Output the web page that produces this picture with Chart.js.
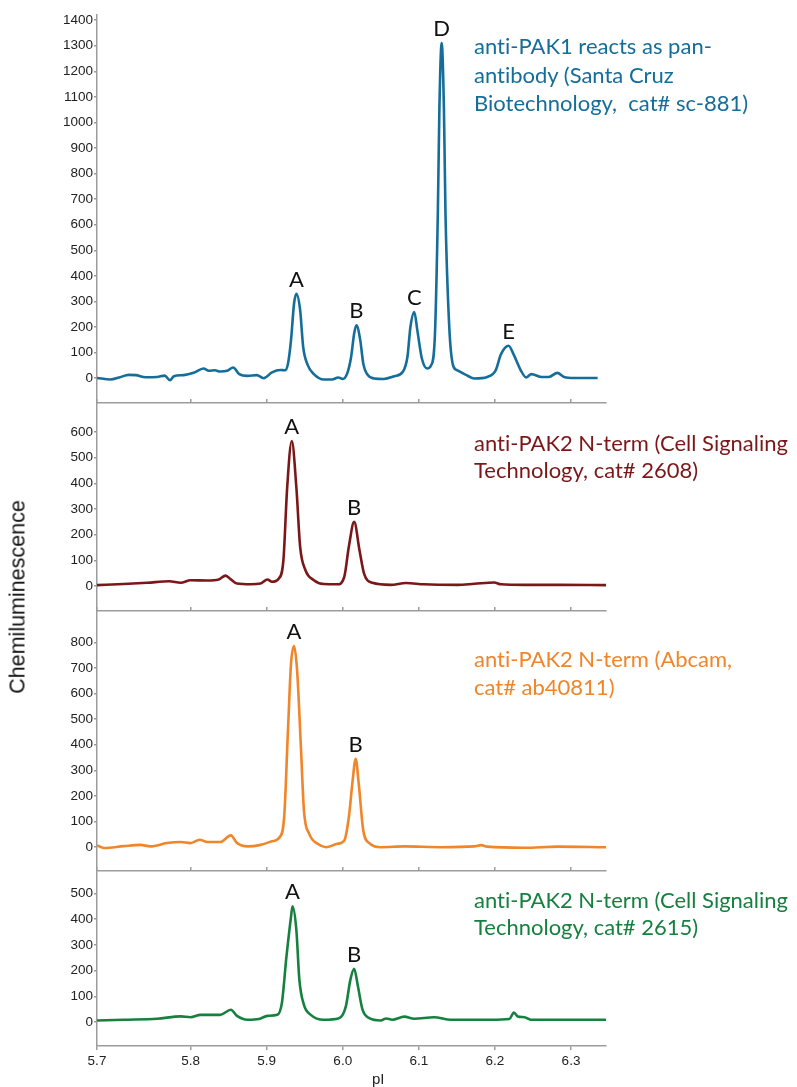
<!DOCTYPE html>
<html lang="en">
<head>
    <meta charset="UTF-8">
    <title>PAK antibody profiles</title>
    <style>
        body {
            margin: 0;
            background: #fff;
            width: 797px;
            height: 1087px;
            position: relative;
            overflow: hidden;
            font-family: "Liberation Sans", Arial, sans-serif;
        }
        .panel {
            position: absolute;
            left: 0;
        }
        .panel canvas {
            display: block;
        }
        .note {
            position: absolute;
            left: 474px;
            font-family: Lato, "Open Sans", sans-serif;
            font-size: 22px;
            font-variant-ligatures: none;
            white-space: pre;
        }
        #ytitle {
            position: absolute;
            left: 18px;
            top: 597px;
            font-size: 21.5px;
            color: #111;
            white-space: nowrap;
            transform: translate(-50%, -50%) rotate(-90deg);
        }
        #xtitle {
            position: absolute;
            left: 372px;
            top: 1070px;
            font-size: 15px;
            color: #222;
        }
    </style>
    <script src="https://cdn.jsdelivr.net/npm/chart.js"></script>
</head>
<body>
    <div class="panel" style="top:0px"><canvas id="c1" width="797" height="402"></canvas></div>
    <div class="panel" style="top:399px"><canvas id="c2" width="797" height="211"></canvas></div>
    <div class="panel" style="top:607px"><canvas id="c3" width="797" height="264"></canvas></div>
    <div class="panel" style="top:867px"><canvas id="c4" width="797" height="209"></canvas></div>

    <div class="note" style="top:32px; line-height:28.6px; color:#156d99">anti-PAK1 reacts as pan-
antibody (Santa Cruz
Biotechnology,  cat# sc-881)</div>
    <div class="note" style="top:430px; line-height:26.8px; color:#7c1719">anti-PAK2 N-term (Cell Signaling
Technology, cat# 2608)</div>
    <div class="note" style="top:645px; line-height:28px; color:#f0852a">anti-PAK2 N-term (Abcam,
cat# ab40811)</div>
    <div class="note" style="top:887px; line-height:26.5px; color:#16803f">anti-PAK2 N-term (Cell Signaling
Technology, cat# 2615)</div>

    <div id="ytitle">Chemiluminescence</div>
    <div id="xtitle">pI</div>

    <script>
        // shared x axis (pI)
        const xMin = 5.677;
        const xMax = 6.346;
        const xTickValues = [5.677, 5.8, 5.9, 6.0, 6.1, 6.2, 6.3];
        const xTickLabels = ['5.7', '5.8', '5.9', '6.0', '6.1', '6.2', '6.3'];

        // y axis range per panel (same scale, different heights)
        const yMin = -93;
        const yMax = [1420, 713, 922, 587];
        const yTopTick = [1400, 600, 800, 500];

        // panel 1: anti-PAK1 (sc-881)
        const pi1 = [5.677, 5.695, 5.706, 5.719, 5.728, 5.741, 5.756, 5.766, 5.773, 5.778, 5.791, 5.804, 5.817, 5.824,
            5.832, 5.839, 5.848, 5.856, 5.864, 5.875, 5.887, 5.896, 5.907, 5.918, 5.924, 5.928, 5.932, 5.936, 5.939,
            5.944, 5.948, 5.954, 5.962, 5.975, 5.986, 5.994, 6.000, 6.006, 6.011, 6.015, 6.018, 6.023, 6.027, 6.032,
            6.041, 6.054, 6.068, 6.079, 6.085, 6.089, 6.094, 6.098, 6.104, 6.111, 6.116, 6.121, 6.125, 6.127, 6.130,
            6.133, 6.135, 6.140, 6.145, 6.150, 6.160, 6.173, 6.190, 6.201, 6.208, 6.218, 6.225, 6.234, 6.241, 6.248,
            6.261, 6.271, 6.282, 6.291, 6.304, 6.335];
        const sig1 = [1, -5, 3, 13, 12, 4, 5, 10, -8, 8, 12, 21, 38, 29,
            31, 26, 29, 42, 16, 9, 12, 0, 23, 32, 31, 57, 149, 292, 330,
            266, 122, 51, 16, -5, -5, 3, -3, 20, 83, 175, 207, 149, 57, 16,
            -1, -3, 8, 25, 83, 201, 259, 188, 77, 38, 50, 160, 650, 1050, 1310,
            1050, 650, 200, 50, 32, 16, -1, 5, 31, 94, 127, 90, 31, 3, 16,
            5, 5, 21, 5, 1, 1];
        const peaks1 = ['A', 'B', 'C', 'D', 'E'];
        const peakPi1 = [5.939, 6.018, 6.094, 6.130, 6.218];

        // panel 2: anti-PAK2 N-term (CST 2608)
        const pi2 = [5.677, 5.712, 5.743, 5.772, 5.787, 5.800, 5.822, 5.837, 5.846, 5.853, 5.861, 5.879, 5.892, 5.901,
            5.907, 5.916, 5.922, 5.927, 5.933, 5.939, 5.944, 5.951, 5.962, 5.975, 5.993, 6.002, 6.008, 6.015, 6.022,
            6.028, 6.039, 6.063, 6.083, 6.107, 6.151, 6.173, 6.199, 6.208, 6.239, 6.283, 6.346];
        const sig2 = [4, 8, 13, 19, 13, 23, 22, 26, 41, 26, 10, 7, 10, 26,
            17, 30, 101, 386, 565, 386, 153, 62, 23, 8, 7, 36, 153, 250, 140,
            49, 13, 5, 12, 7, 5, 9, 14, 7, 5, 5, 4];
        const peaks2 = ['A', 'B'];
        const peakPi2 = [5.933, 6.015];

        // panel 3: anti-PAK2 N-term (Abcam ab40811)
        const pi3 = [5.677, 5.686, 5.712, 5.734, 5.747, 5.769, 5.787, 5.800, 5.812, 5.822, 5.839, 5.853, 5.861, 5.875,
            5.892, 5.907, 5.917, 5.923, 5.928, 5.932, 5.936, 5.940, 5.945, 5.949, 5.956, 5.967, 5.978, 5.993, 6.002,
            6.008, 6.013, 6.017, 6.021, 6.027, 6.035, 6.050, 6.081, 6.129, 6.173, 6.182, 6.190, 6.239, 6.282, 6.346];
        const sig3 = [7, -3, 4, 9, 3, 16, 20, 16, 29, 20, 20, 46, 16, 3,
            9, 23, 39, 117, 456, 716, 785, 690, 391, 143, 52, 13, 0, 13, 26,
            117, 260, 345, 248, 65, 16, 0, 3, 0, 3, 8, 2, -2, 2, 0];
        const peaks3 = ['A', 'B'];
        const peakPi3 = [5.936, 6.017];

        // panel 4: anti-PAK2 N-term (CST 2615)
        const pi4 = [5.677, 5.712, 5.756, 5.787, 5.800, 5.813, 5.839, 5.853, 5.861, 5.875, 5.890, 5.901, 5.914, 5.920,
            5.926, 5.932, 5.934, 5.939, 5.943, 5.949, 5.958, 5.975, 5.995, 6.004, 6.010, 6.015, 6.020, 6.026, 6.035,
            6.050, 6.057, 6.065, 6.081, 6.094, 6.120, 6.142, 6.195, 6.219, 6.225, 6.230, 6.239, 6.247, 6.304, 6.346];
        const sig4 = [6, 9, 13, 22, 19, 28, 28, 48, 24, 9, 12, 24, 28, 74,
            254, 409, 450, 358, 164, 67, 28, 9, 15, 60, 164, 207, 138, 48, 15,
            6, 14, 9, 21, 13, 19, 9, 9, 12, 37, 22, 19, 9, 9, 9];
        const peaks4 = ['A', 'B'];
        const peakPi4 = [5.934, 6.015];

        const axisGrey = '#9c9c9c';
        const tickFont = { family: '"Liberation Sans", Arial, sans-serif', size: 13.5 };

        // no extra room for half-labels at the axis ends, the panels sit edge to edge
        function noEndPadding(s) {
            s.paddingTop = 0;
            s.paddingBottom = 0;
            s.paddingLeft = 0;
            s.paddingRight = 0;
        }

        function makePanel(canvasId, xs, ys, color, panelIndex, names, at, showTop, showBottom, padTop) {
            // draws the peak letters just above the highest point near each position
            const peakLabels = {
                id: 'peakLabels' + panelIndex,
                afterDatasetsDraw(chart) {
                    const ctx = chart.ctx;
                    const pts = chart.data.datasets[0].data;
                    const sx = chart.scales.x, sy = chart.scales.y;
                    ctx.save();
                    ctx.font = '22px Lato, sans-serif';
                    ctx.fillStyle = '#111';
                    ctx.textAlign = 'center';
                    ctx.textBaseline = 'alphabetic';
                    names.forEach((name, i) => {
                        const near = pts.filter(p => Math.abs(p.x - at[i]) < 0.006);
                        const top = Math.max(...near.map(p => p.y));
                        ctx.fillText(name, sx.getPixelForValue(at[i]), sy.getPixelForValue(top) - 7);
                    });
                    ctx.restore();
                }
            };

            const xAxisBase = {
                type: 'linear',
                min: xMin,
                max: xMax,
                afterBuildTicks: s => { s.ticks = xTickValues.map(v => ({ value: v })); },
                border: { display: true, color: axisGrey, width: 1.5 },
                grid: { drawOnChartArea: false, tickLength: 4, color: axisGrey, lineWidth: 1.5 }
            };

            return new Chart(document.getElementById(canvasId), {
                type: 'line',
                data: {
                    datasets: [{
                        data: xs.map((x, i) => ({ x: x, y: ys[i] })),
                        borderColor: color,
                        borderWidth: 2.6,
                        pointRadius: 0,
                        fill: false,
                        cubicInterpolationMode: 'monotone'
                    }]
                },
                options: {
                    responsive: false,
                    animation: false,
                    layout: { padding: { top: padTop, right: 191, left: 0, bottom: 0 } },
                    plugins: {
                        legend: { display: false },
                        tooltip: { enabled: false }
                    },
                    scales: {
                        x: Object.assign({}, xAxisBase, {
                            position: 'bottom',
                            display: showBottom,
                            afterFit: s => {
                                noEndPadding(s);
                                if (showBottom) s.height = 30;
                            },
                            ticks: {
                                color: '#222',
                                font: tickFont,
                                padding: 3,
                                maxRotation: 0,
                                autoSkip: false,
                                callback: (v, i) => xTickLabels[i]
                            }
                        }),
                        xTop: Object.assign({}, xAxisBase, {
                            position: 'top',
                            display: showTop,
                            afterFit: s => {
                                noEndPadding(s);
                                if (showTop) s.height = 4;
                            },
                            ticks: { display: false }
                        }),
                        y: {
                            min: yMin,
                            max: yMax[panelIndex],
                            afterBuildTicks: s => {
                                const t = [];
                                for (let v = 0; v <= yTopTick[panelIndex]; v += 100) t.push({ value: v });
                                s.ticks = t;
                            },
                            afterFit: s => {
                                noEndPadding(s);
                                s.width = 97;
                            },
                            border: { display: true, color: axisGrey, width: 1.5 },
                            grid: { drawOnChartArea: false, tickLength: 3, color: axisGrey, lineWidth: 1.5 },
                            ticks: { color: '#222', font: tickFont, padding: 1, callback: v => String(v) }
                        }
                    }
                },
                plugins: [peakLabels]
            });
        }

        makePanel('c1', pi1, sig1, '#156d99', 0, peaks1, peakPi1, false, false, 15);
        makePanel('c2', pi2, sig2, '#7c1719', 1, peaks2, peakPi2, true, false, 0);
        makePanel('c3', pi3, sig3, '#f0852a', 2, peaks3, peakPi3, true, false, 0);
        makePanel('c4', pi4, sig4, '#16803f', 3, peaks4, peakPi4, true, true, 0);
    </script>
</body>
</html>
